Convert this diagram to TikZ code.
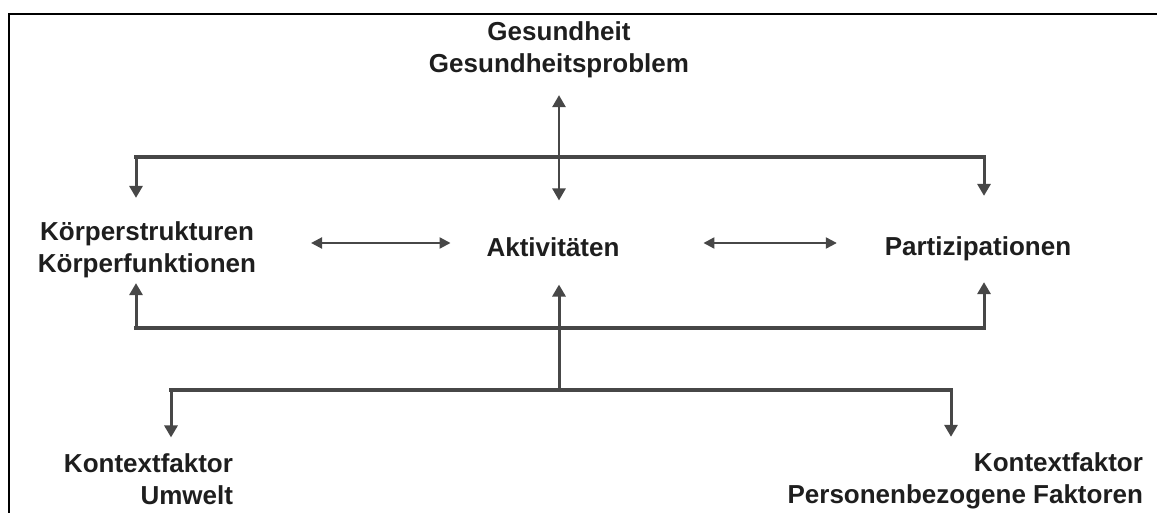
\documentclass[tikz,border=0pt]{standalone}
\usepackage{fontspec}
\setmainfont{Liberation Sans}
\usetikzlibrary{arrows.meta}

\definecolor{linegray}{HTML}{474747}
\definecolor{textgray}{HTML}{1E1E1E}

\tikzset{
  txt/.style={font=\bfseries\fontsize{26}{32}\selectfont, text=textgray, inner sep=0pt, outer sep=0pt},
  bus/.style={draw=linegray, line width=4pt},
  arr/.style={draw=linegray, line width=3pt, -{Triangle[length=12pt,width=13pt]}},
  dblarr/.style={draw=linegray, line width=2.2pt, {Triangle[length=11pt,width=11pt]}-{Triangle[length=11pt,width=11pt]}}
}

\begin{document}
\begin{tikzpicture}[x=1pt,y=-1pt]
            \useasboundingbox (0,0) rectangle (1157,513);

            % Draw frame
            \draw[black, line width=2.5pt] (9,513) -- (9,14) -- (1157,14);

            % Draw labels
            \node[txt, align=center] (gesund) at (559,50) {Gesundheit\\Gesundheitsproblem};
            \node[txt, align=center] (koerper) at (147,250) {Körperstrukturen\\Körperfunktionen};
            \node[txt] (aktiv) at (553,247) {Aktivitäten};
            \node[txt] (partiz) at (978,249) {Partizipationen};
            \node[txt, align=right, anchor=east] (umwelt) at (233,479) {Kontextfaktor\\Umwelt};
            \node[txt, align=right, anchor=east] (person) at (1143,481) {Kontextfaktor\\Personenbezogene Faktoren};

            % Bus corners
            \coordinate (tl) at (136,157);
            \coordinate (tr) at (984,157);
            \coordinate (bl) at (136,328);
            \coordinate (br) at (984,328);
            \coordinate (ul) at (171,390);
            \coordinate (ur) at (951,390);
            \coordinate (uc) at (559,390);

            % Draw top bus
            \draw[bus, line cap=rect] (tl) -- (tr);
            \draw[arr, shorten >=24pt] (tl) -- (tl |- koerper.north);
            \draw[arr, shorten >=41pt] (tr) -- (tr |- partiz.north);
            \draw[draw=linegray, line width=2.5pt, {Triangle[length=12pt,width=13pt]}-{Triangle[length=12pt,width=13pt]}, shorten <=17pt, shorten >=37pt] (uc |- gesund.south) -- (uc |- aktiv.north);

            % Draw double arrows between the labels
            \draw[dblarr, shorten <=55pt, shorten >=36pt] ([yshift=4pt]aktiv.west -| koerper.east) -- ([yshift=4pt]aktiv.west);
            \draw[dblarr, shorten <=84pt, shorten >=48pt] ([yshift=4pt]aktiv.east) -- ([yshift=4pt]aktiv.east -| partiz.west);

            % Draw bottom bus
            \draw[bus, line cap=rect] (bl) -- (br);
            \draw[arr, shorten >=5pt] (bl) -- (bl |- koerper.south);
            \draw[arr, shorten >=21pt] (br) -- (br |- partiz.south);
            \draw[arr, shorten >=28pt] (uc) -- (uc |- aktiv.south);

            % Draw lower bus
            \draw[bus, line cap=rect] (ul) -- (ur);
            \draw[arr, shorten >=16pt] (ul) -- (ul |- umwelt.north);
            \draw[arr, shorten >=16pt] (ur) -- (ur |- person.north);
        \end{tikzpicture}
\end{document}
